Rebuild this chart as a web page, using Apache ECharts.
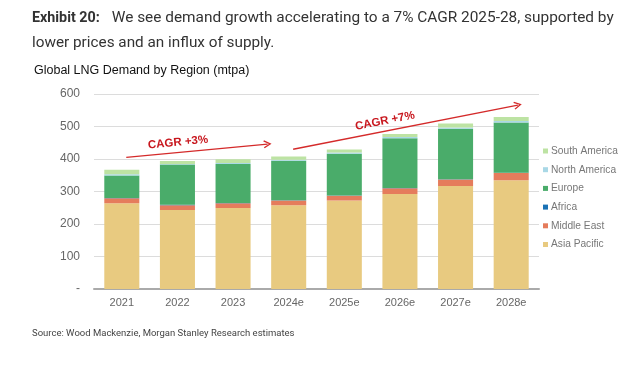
<!DOCTYPE html>
<html>
<head>
<meta charset="utf-8">
<script src="https://cdn.jsdelivr.net/npm/echarts@6/dist/echarts.min.js"></script>
<style>html,body{margin:0;padding:0;background:#fff;}#c{width:640px;height:376px;}</style>
</head>
<body>
<div id="c"></div>
<script>
const categories = ['2021','2022','2023','2024e','2025e','2026e','2027e','2028e'];
const asiaPacific  = [264, 243, 249, 258, 272, 292, 317, 335];
const middleEast   = [15, 15, 15, 14, 15, 18, 20, 22];
const africa       = [1, 1, 1, 1, 1, 1, 1, 1];
const europe       = [69, 124, 120, 122, 128, 153, 155, 154];
const northAmerica = [4, 2, 3, 3, 4, 4, 4, 5];
const southAmerica = [14, 9, 11, 10, 9, 9, 12, 12];
const yTicks = [0, 100, 200, 300, 400, 500, 600];
// CAGR annotation arrows: [category position, value]
const cagr1 = { label: 'CAGR +3%', from: [0.08, 405], to: [2.62, 446] };
const cagr2 = { label: 'CAGR +7%', from: [3.08, 430], to: [7.12, 566] };

const colors = {
  'Asia Pacific': '#E8CA80',
  'Middle East': '#E57C5C',
  'Africa': '#1A72B5',
  'Europe': '#4AAC6A',
  'North America': '#A9D8E6',
  'South America': '#BDE3A3'
};
const seriesDefs = [
  ['Asia Pacific', asiaPacific],
  ['Middle East', middleEast],
  ['Africa', africa],
  ['Europe', europe],
  ['North America', northAmerica],
  ['South America', southAmerica]
];
const chevron = 'path://M5,0 L10,9 L8.6,10 L5,3.2 L1.4,10 L0,9 Z';
function arrowLine(a, pad) {
  return {
    symbol: ['none', chevron],
    symbolSize: [8, 8],
    silent: true,
    lineStyle: { color: '#D42A2A', width: 1.3, type: 'solid' },
    label: {
      show: true, position: 'insideMiddleTop', formatter: a.label,
      color: '#C8171E', fontWeight: 'bold', fontSize: 11.5,
      fontFamily: 'Liberation Sans, Arial, sans-serif',
      padding: pad, distance: 4
    },
    data: [[{ coord: a.from }, { coord: a.to }]]
  };
}

const chart = echarts.init(document.getElementById('c'), null, { renderer: 'canvas' });
const series = seriesDefs.map(([name, data]) => ({
  name, type: 'bar', stack: 'total', data,
  barWidth: '63%',
  itemStyle: { color: colors[name] },
  emphasis: { disabled: true }
}));
series.push({
  type: 'line', xAxisIndex: 1, data: [], silent: true,
  markLine: arrowLine(cagr1, [0, 36, 0, 0])
});
series.push({
  type: 'line', xAxisIndex: 1, data: [], silent: true,
  markLine: arrowLine(cagr2, [0, 38, 0, 0])
});

chart.setOption({
  animation: false,
  textStyle: { fontFamily: 'Liberation Sans, Arial, sans-serif' },
  title: [
    {
      left: 32, top: 11, padding: 0,
      text: '{b|Exhibit 20:}{g|}We see demand growth accelerating to a 7% CAGR 2025-28, supported by',
      textStyle: {
        fontFamily: 'Roboto', fontSize: 15.4, fontWeight: 'normal', color: '#333',
        rich: {
          b: { fontFamily: 'Roboto', fontSize: 14.3, fontWeight: 'bold', color: '#333' },
          g: { width: 12 }
        }
      }
    },
    {
      left: 32, top: 36, padding: 0,
      text: 'lower prices and an influx of supply.',
      textStyle: { fontFamily: 'Roboto', fontSize: 15.3, fontWeight: 'normal', color: '#333' }
    },
    {
      left: 34, top: 64, padding: 0,
      text: 'Global LNG Demand by Region (mtpa)',
      textStyle: { fontFamily: 'Liberation Sans, Arial, sans-serif', fontSize: 12.5, fontWeight: 'normal', color: '#111' }
    },
    {
      left: 32, top: 329, padding: 0,
      text: 'Source: Wood Mackenzie, Morgan Stanley Research estimates',
      textStyle: { fontFamily: 'Roboto', fontSize: 9.5, fontWeight: 'normal', color: '#444' }
    }
  ],
  legend: {
    orient: 'vertical', left: 538, top: 140,
    data: ['South America', 'North America', 'Europe', 'Africa', 'Middle East', 'Asia Pacific'],
    icon: 'rect', itemWidth: 5, itemHeight: 5, itemGap: 6.7,
    textStyle: { fontSize: 10.2, color: '#777', lineHeight: 12, padding: [0, 0, 0, -2] },
    selectedMode: false
  },
  grid: { left: 94, right: 101, top: 94, bottom: 87, containLabel: false },
  xAxis: [
    {
      type: 'category', data: categories,
      axisLine: { lineStyle: { color: '#aaa', width: 2 } },
      axisTick: { show: false },
      axisLabel: { color: '#666', fontSize: 11, margin: 8 }
    },
    { type: 'value', min: -0.5, max: 7.5, show: false }
  ],
  yAxis: {
    type: 'value', min: 0, max: 600, interval: 100,
    axisLine: { show: false }, axisTick: { show: false },
    splitLine: { lineStyle: { color: '#dcdcdc', width: 1 } },
    axisLabel: { color: '#666', fontSize: 12, margin: 14,
      formatter: v => (yTicks.indexOf(v) >= 0 ? (v === 0 ? '-' : String(v)) : '') }
  },
  series
});
</script>
</body>
</html>
